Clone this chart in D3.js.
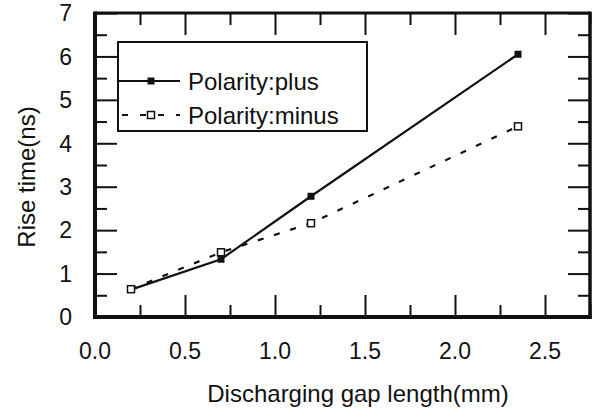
<!DOCTYPE html>
<html>
<head>
<meta charset="utf-8">
<script src="https://cdn.jsdelivr.net/npm/d3@7"></script>
<style>
  body { margin: 0; background: #fff; }
  text { font-family: "Liberation Sans", Arial, sans-serif; fill: #111; }
</style>
</head>
<body>
<div id="chart"></div>
<script>
// data
const gapLength = [0.2, 0.7, 1.2, 2.35];
const risePlus = [0.63, 1.33, 2.78, 6.05];
const riseMinus = [0.64, 1.49, 2.16, 4.39];
const seriesNames = ['Polarity:plus', 'Polarity:minus'];
const xMajor = [0, 0.5, 1.0, 1.5, 2.0, 2.5];
const xMinor = [0.25, 0.75, 1.25, 1.75, 2.25, 2.75];
const yMajor = [0, 1, 2, 3, 4, 5, 6, 7];
const yMinor = [0.5, 1.5, 2.5, 3.5, 4.5, 5.5, 6.5];

const width = 601, height = 418;
const plotLeft = 95, plotRight = 590, plotTop = 13, plotBottom = 317;

const svg = d3.select('#chart').append('svg')
    .attr('width', width)
    .attr('height', height);

const x = d3.scaleLinear().domain([0, 2.75]).range([plotLeft, plotRight]);
const y = d3.scaleLinear().domain([0, 7]).range([plotBottom, plotTop]);

// ticks (all pointing inward)
function tickAxis(axis, g) {
    g.call(axis);
    g.select('.domain').remove();
    g.selectAll('line').attr('stroke', '#111').attr('stroke-width', 2);
}

tickAxis(d3.axisBottom(x).tickValues(xMajor).tickSize(-22).tickFormat(''),
    svg.append('g').attr('transform', `translate(0,${plotBottom})`));
tickAxis(d3.axisBottom(x).tickValues(xMinor).tickSize(-12).tickFormat(''),
    svg.append('g').attr('transform', `translate(0,${plotBottom})`));
tickAxis(d3.axisTop(x).tickValues(xMajor).tickSize(-22).tickFormat(''),
    svg.append('g').attr('transform', `translate(0,${plotTop})`));
tickAxis(d3.axisTop(x).tickValues(xMinor).tickSize(-12).tickFormat(''),
    svg.append('g').attr('transform', `translate(0,${plotTop})`));
tickAxis(d3.axisLeft(y).tickValues(yMajor).tickSize(-22).tickFormat(''),
    svg.append('g').attr('transform', `translate(${plotLeft},0)`));
tickAxis(d3.axisLeft(y).tickValues(yMinor).tickSize(-12).tickFormat(''),
    svg.append('g').attr('transform', `translate(${plotLeft},0)`));
tickAxis(d3.axisRight(y).tickValues(yMajor).tickSize(-22).tickFormat(''),
    svg.append('g').attr('transform', `translate(${plotRight},0)`));
tickAxis(d3.axisRight(y).tickValues(yMinor).tickSize(-12).tickFormat(''),
    svg.append('g').attr('transform', `translate(${plotRight},0)`));

// frame
svg.append('line').attr('x1', plotLeft).attr('x2', plotRight).attr('y1', plotTop).attr('y2', plotTop)
    .attr('stroke', '#111').attr('stroke-width', 3);
svg.append('line').attr('x1', plotRight).attr('x2', plotRight).attr('y1', plotTop - 1.5).attr('y2', plotBottom + 2)
    .attr('stroke', '#111').attr('stroke-width', 3.5);
svg.append('line').attr('x1', plotLeft).attr('x2', plotLeft).attr('y1', plotTop - 1.5).attr('y2', plotBottom + 2)
    .attr('stroke', '#111').attr('stroke-width', 4);
svg.append('line').attr('x1', plotLeft - 2).attr('x2', plotRight + 1.5).attr('y1', plotBottom).attr('y2', plotBottom)
    .attr('stroke', '#111').attr('stroke-width', 4);

// tick labels
svg.append('g').selectAll('text')
    .data(xMajor)
    .enter()
    .append('text')
    .attr('x', d => x(d))
    .attr('y', 359)
    .attr('text-anchor', 'middle')
    .style('font-size', '23px')
    .text(d => d.toFixed(1));

svg.append('g').selectAll('text')
    .data(yMajor)
    .enter()
    .append('text')
    .attr('x', 72)
    .attr('y', d => y(d))
    .attr('dy', '0.36em')
    .attr('text-anchor', 'end')
    .style('font-size', '23px')
    .text(d => d);

// axis titles
svg.append('text')
    .attr('x', 358)
    .attr('y', 402)
    .attr('text-anchor', 'middle')
    .style('font-size', '24px')
    .text('Discharging gap length(mm)');

svg.append('text')
    .attr('transform', 'translate(35,177) rotate(-90)')
    .attr('text-anchor', 'middle')
    .style('font-size', '24px')
    .text('Rise time(ns)');

// series
const plusPts = gapLength.map((g, i) => [g, risePlus[i]]);
const minusPts = gapLength.map((g, i) => [g, riseMinus[i]]);
const line = d3.line().x(d => x(d[0])).y(d => y(d[1]));

svg.append('path')
    .datum(minusPts)
    .attr('d', line)
    .attr('fill', 'none')
    .attr('stroke', '#111')
    .attr('stroke-width', 2.2)
    .attr('stroke-dasharray', '6 11');

svg.append('path')
    .datum(plusPts)
    .attr('d', line)
    .attr('fill', 'none')
    .attr('stroke', '#111')
    .attr('stroke-width', 2.2);

const ms = 7;
svg.append('g').selectAll('rect')
    .data(minusPts)
    .enter()
    .append('rect')
    .attr('x', d => x(d[0]) - ms / 2)
    .attr('y', d => y(d[1]) - ms / 2)
    .attr('width', ms)
    .attr('height', ms)
    .attr('fill', '#fff')
    .attr('stroke', '#111')
    .attr('stroke-width', 1.5);

svg.append('g').selectAll('rect')
    .data(plusPts.slice(1))
    .enter()
    .append('rect')
    .attr('x', d => x(d[0]) - ms / 2)
    .attr('y', d => y(d[1]) - ms / 2)
    .attr('width', ms)
    .attr('height', ms)
    .attr('fill', '#111');

// legend
const legend = svg.append('g');
legend.append('rect')
    .attr('x', 118).attr('y', 42)
    .attr('width', 249).attr('height', 89)
    .attr('fill', '#fff')
    .attr('stroke', '#111')
    .attr('stroke-width', 2);

const legendY = [81, 115];
legend.append('line')
    .attr('x1', 118).attr('x2', 180).attr('y1', legendY[0]).attr('y2', legendY[0])
    .attr('stroke', '#111').attr('stroke-width', 2);
legend.append('rect')
    .attr('x', 151 - ms / 2).attr('y', legendY[0] - ms / 2)
    .attr('width', ms).attr('height', ms)
    .attr('fill', '#111');
legend.append('line')
    .attr('x1', 122).attr('x2', 180).attr('y1', legendY[1]).attr('y2', legendY[1])
    .attr('stroke', '#111').attr('stroke-width', 2)
    .attr('stroke-dasharray', '6 12');
legend.append('rect')
    .attr('x', 151 - ms / 2).attr('y', legendY[1] - ms / 2)
    .attr('width', ms).attr('height', ms)
    .attr('fill', '#fff')
    .attr('stroke', '#111')
    .attr('stroke-width', 1.5);

legend.selectAll('.legend-label')
    .data(seriesNames)
    .enter()
    .append('text')
    .attr('class', 'legend-label')
    .attr('x', 188)
    .attr('y', (d, i) => legendY[i])
    .attr('dy', '0.36em')
    .style('font-size', '24px')
    .text(d => d);
</script>
</body>
</html>
